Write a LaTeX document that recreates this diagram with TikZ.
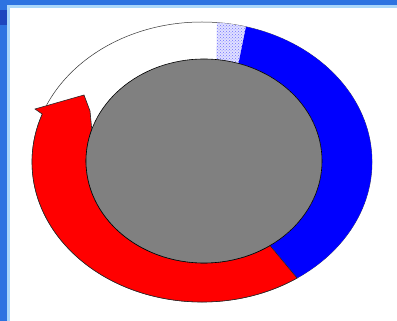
\documentclass[tikz,border=0pt]{standalone}
\usetikzlibrary{calc,patterns}
\definecolor{frameblue}{RGB}{45,115,225}
\definecolor{framelight}{RGB}{170,215,250}
\definecolor{darkframe}{RGB}{30,70,190}
\definecolor{ringgray}{RGB}{128,128,128}
\begin{document}
\begin{tikzpicture}[x=1pt,y=1pt,
  ringline/.style={draw=black,line width=0.6pt},
  thinline/.style={draw=black!80,line width=0.5pt}]
\useasboundingbox (0,0) rectangle (397,321);
% background and frame
\fill[white] (0,0) rectangle (397,321);
\fill[frameblue] (0,0) rectangle (7,321);
\fill[framelight] (7,0) rectangle (10,321);
\fill[frameblue] (0,316) rectangle (397,321);
\fill[framelight] (7,313) rectangle (397,316);
\fill[darkframe] (0,296) rectangle (7,311);
\coordinate (oc) at (202,159);
\coordinate (ic) at (204,160);
% outer ring outline (white part)
\path[thinline,fill=white] (oc) ellipse[x radius=170pt,y radius=140pt];
% dotted transition
\path[fill=blue!12] ($(oc)+(85:170pt and 140pt)$) arc[start angle=85,end angle=75,x radius=170pt,y radius=140pt]
  -- ($(ic)+(73:118pt and 102pt)$) arc[start angle=73,end angle=84,x radius=118pt,y radius=102pt] -- cycle;
\path[pattern=crosshatch dots,pattern color=blue!55] ($(oc)+(85:170pt and 140pt)$) arc[start angle=85,end angle=75,x radius=170pt,y radius=140pt]
  -- ($(ic)+(73:118pt and 102pt)$) arc[start angle=73,end angle=84,x radius=118pt,y radius=102pt] -- cycle;
% blue part
\fill[blue] ($(oc)+(75:170pt and 140pt)$) arc[start angle=75,end angle=-56,x radius=170pt,y radius=140pt]
  -- ($(ic)+(-56:118pt and 102pt)$) arc[start angle=-56,end angle=73,x radius=118pt,y radius=102pt] -- cycle;
% red arrow
\path[fill=red,draw=black!85,line width=0.6pt,line join=miter] ($(oc)+(-56:170pt and 140pt)$) arc[start angle=-56,end angle=-200,x radius=170pt,y radius=140pt]
  -- (35,212) -- (84,226) -- (90,210) -- ($(ic)+(162:118pt and 102pt)$)
  arc[start angle=162,end angle=304,x radius=118pt,y radius=102pt] -- cycle;
% inner gray ellipse
\path[fill=ringgray,ringline] (ic) ellipse[x radius=118pt,y radius=102pt];
\end{tikzpicture}
\end{document}
